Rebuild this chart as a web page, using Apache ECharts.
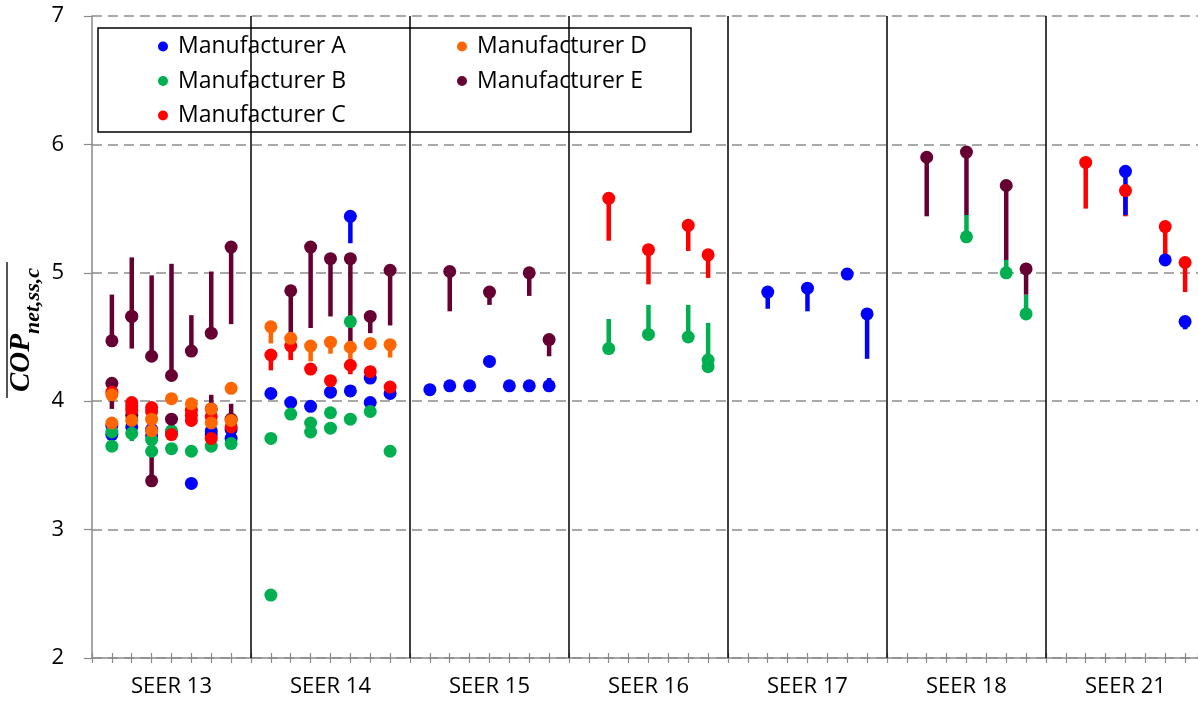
<!DOCTYPE html>
<html>
<head>
<meta charset="utf-8">
<script src="https://cdn.jsdelivr.net/npm/echarts@6/dist/echarts.min.js"></script>
<style>
html,body{margin:0;padding:0;background:#fff;}
#chart{width:1198px;height:702px;}
</style>
</head>
<body>
<div id="chart"></div>
<script>
// ---- categories / tick labels ----
const seerLabels = ['SEER 13', 'SEER 14', 'SEER 15', 'SEER 16', 'SEER 17', 'SEER 18', 'SEER 21'];
const yTicks = [2, 3, 4, 5, 6, 7];
const slotsPerGroup = 8;
const xVisibleMax = 55.65; // the last group is cut off by the right edge of the picture

// ---- data: [group index, slot in group, COP value, error-bar end (null = none)] ----
const mfrA = [
  [0,1,3.81,null],[0,1,3.74,null],[0,2,3.80,null],[0,3,3.78,null],[0,3,3.73,null],
  [0,4,3.76,null],[0,5,3.36,null],[0,6,3.77,null],[0,6,3.74,null],[0,7,3.78,null],[0,7,3.71,null],
  [1,1,4.06,null],[1,2,3.99,null],[1,3,3.96,null],[1,4,4.07,null],[1,5,5.44,5.23],[1,5,4.08,null],
  [1,6,4.18,null],[1,6,3.99,null],[1,7,4.06,null],
  [2,1,4.09,null],[2,2,4.12,null],[2,3,4.12,null],[2,4,4.31,null],[2,5,4.12,null],[2,6,4.12,null],[2,7,4.12,4.18],
  [4,2,4.85,4.72],[4,4,4.88,4.70],[4,6,4.99,null],[4,7,4.68,4.33],
  [6,4,5.79,5.45],[6,6,5.10,null],[6,7,4.62,4.56]
];
const mfrB = [
  [0,1,3.76,null],[0,1,3.65,null],[0,2,3.75,3.69],[0,3,3.70,null],[0,3,3.61,null],
  [0,4,3.77,null],[0,4,3.63,null],[0,5,3.61,null],[0,6,3.65,null],[0,7,3.67,null],
  [1,1,3.71,null],[1,1,2.49,null],[1,2,3.90,null],[1,3,3.83,null],[1,3,3.76,null],
  [1,4,3.91,null],[1,4,3.79,null],[1,5,4.62,null],[1,5,3.86,null],[1,6,3.92,null],[1,7,3.61,null],
  [3,2,4.41,4.64],[3,4,4.52,4.75],[3,6,4.50,4.75],[3,7,4.32,4.61],[3,7,4.27,null],
  [5,4,5.28,5.45],[5,6,5.00,5.10],[5,7,4.68,4.83]
];
const mfrC = [
  [0,1,4.07,null],[0,2,3.99,null],[0,2,3.96,null],[0,2,3.93,null],[0,3,3.95,null],[0,3,3.92,null],
  [0,4,3.74,null],[0,5,3.93,null],[0,5,3.89,null],[0,5,3.85,null],[0,6,3.88,null],[0,6,3.71,null],[0,7,3.80,null],
  [1,1,4.36,4.24],[1,2,4.43,4.32],[1,3,4.25,null],[1,4,4.16,null],[1,5,4.28,4.21],[1,6,4.23,null],[1,7,4.11,null],
  [3,2,5.58,5.25],[3,4,5.18,4.91],[3,6,5.37,5.17],[3,7,5.14,4.96],
  [6,2,5.86,5.50],[6,4,5.64,5.44],[6,6,5.36,5.10],[6,7,5.08,4.85]
];
const mfrD = [
  [0,1,4.05,null],[0,1,3.83,null],[0,2,3.85,null],[0,3,3.86,null],[0,3,3.77,null],[0,4,4.02,null],
  [0,5,3.98,null],[0,6,3.94,null],[0,6,3.83,null],[0,7,4.10,null],[0,7,3.85,null],
  [1,1,4.58,4.45],[1,2,4.49,4.33],[1,3,4.43,4.31],[1,4,4.46,4.37],[1,5,4.42,4.33],[1,6,4.45,4.40],[1,7,4.44,4.34]
];
const mfrE = [
  [0,1,4.47,4.83],[0,1,4.14,3.94],[0,2,4.66,5.12],[0,2,4.66,4.41],[0,2,3.89,null],[0,3,4.35,4.98],[0,3,3.38,3.62],
  [0,4,4.20,5.07],[0,4,3.86,null],[0,5,4.39,4.67],[0,6,4.53,5.01],[0,6,3.94,4.05],[0,7,5.20,4.60],[0,7,3.86,3.98],
  [1,2,4.86,4.50],[1,3,5.20,4.57],[1,4,5.11,4.66],[1,5,5.11,4.45],[1,6,4.66,4.53],[1,7,5.02,4.59],
  [2,2,5.01,4.70],[2,4,4.85,4.75],[2,6,5.00,4.82],[2,7,4.48,4.35],
  [5,2,5.90,5.44],[5,4,5.94,5.45],[5,6,5.68,5.10],[5,7,5.03,4.83]
];

const colors = {
  'Manufacturer A':'#0000FF','Manufacturer B':'#00B050','Manufacturer C':'#FF0000',
  'Manufacturer D':'#FF6600','Manufacturer E':'#660033'
};
const dataByName = {
  'Manufacturer A':mfrA,'Manufacturer B':mfrB,'Manufacturer C':mfrC,
  'Manufacturer D':mfrD,'Manufacturer E':mfrE
};

const FONT = '"Open Sans", "Liberation Sans", sans-serif';
const SERIF = '"Liberation Serif", "DejaVu Serif", serif';

function xPos(d){ return d[0]*slotsPerGroup + d[1]; }

function barSeries(name, withSeparators){
  const color = colors[name];
  const s = {
    name: name,
    type: 'custom',
    z: 2,
    silent: true,
    itemStyle: {color: color},
    encode: {x: 0, y: [1, 2]},
    data: dataByName[name].filter(d => d[3] !== null).map(d => [xPos(d), d[2], d[3]]),
    renderItem: function(params, api){
      const x = api.value(0);
      const p1 = api.coord([x, api.value(1)]);
      const p2 = api.coord([x, api.value(2)]);
      return {type:'line', shape:{x1:p1[0],y1:p1[1],x2:p2[0],y2:p2[1]},
              style:{stroke: color, lineWidth: 4.5, lineCap:'butt'}};
    }
  };
  if (withSeparators){
    s.markLine = {
      silent: true, symbol: 'none', animation: false,
      label: {show:false},
      lineStyle: {color:'#000', type:'solid', width:1.5},
      data: [1,2,3,4,5,6].map(k => ({xAxis: k*slotsPerGroup}))
    };
  }
  return s;
}
function pointSeries(name){
  return {
    name: name,
    type: 'scatter',
    z: 3,
    symbol: 'circle',
    symbolSize: 13,
    itemStyle: {color: colors[name], opacity: 1},
    data: dataByName[name].map(d => [xPos(d), d[2]])
  };
}

const barOrder = ['Manufacturer B','Manufacturer D','Manufacturer C','Manufacturer A','Manufacturer E'];
const pointOrder = ['Manufacturer A','Manufacturer B','Manufacturer E','Manufacturer C','Manufacturer D'];

const series = [];
barOrder.forEach((n, i) => series.push(barSeries(n, i === 0)));
pointOrder.forEach(n => series.push(pointSeries(n)));

const legendText = {fontFamily: FONT, fontSize: 23, color: '#000', lineHeight: 27, padding: [0,0,0,5]};

const chart = echarts.init(document.getElementById('chart'));
chart.setOption({
  animation: false,
  backgroundColor: '#fff',
  grid: {left: 92, top: 16, right: 0, bottom: 44, containLabel: false},
  xAxis: [{
    type: 'value', min: 0, max: xVisibleMax, interval: 1,
    position: 'bottom',
    axisLine: {show: true, lineStyle: {color: '#8a8a8a', width: 1.5}},
    axisTick: {show: true, length: 5, lineStyle: {color: '#8a8a8a', width: 1.2}},
    splitLine: {show: false},
    axisLabel: {
      show: true, margin: 18, fontFamily: FONT, fontSize: 22, color: '#000',
      showMaxLabel: false,
      formatter: function(v){
        const r = Math.round(v);
        if (Math.abs(v - r) > 1e-6) return '';
        return (r % slotsPerGroup === slotsPerGroup/2) ? seerLabels[(r - slotsPerGroup/2)/slotsPerGroup] : '';
      }
    }
  },{
    type: 'value', min: 0, max: xVisibleMax, interval: 1,
    position: 'bottom', offset: 0,
    axisLine: {show: false},
    axisTick: {show: true, inside: true, length: 5, lineStyle: {color: '#8a8a8a', width: 1.2}},
    splitLine: {show: false},
    axisLabel: {show: false}
  }],
  yAxis: {
    type: 'value', min: yTicks[0], max: yTicks[yTicks.length-1], interval: 1,
    axisLine: {show: true, lineStyle: {color: '#8a8a8a', width: 1.5}},
    axisTick: {show: true, length: 8, lineStyle: {color: '#8a8a8a', width: 1.2}},
    splitLine: {show: true, lineStyle: {color: '#8c8c8c', type: [10, 6], width: 1.5}},
    axisLabel: {margin: 28, fontFamily: FONT, fontSize: 22, color: '#000'}
  },
  legend: [{
    data: ['Manufacturer A','Manufacturer B','Manufacturer C'],
    orient: 'vertical', left: 153, top: 28,
    icon: 'circle', itemWidth: 10, itemHeight: 10, itemGap: 7.5,
    textStyle: legendText, z: 5
  },{
    data: ['Manufacturer D','Manufacturer E'],
    orient: 'vertical', left: 452, top: 28,
    icon: 'circle', itemWidth: 10, itemHeight: 10, itemGap: 7.5,
    textStyle: legendText, z: 5
  }],
  graphic: [
    {type: 'rect', z: 4, silent: true,
     shape: {x: 98, y: 28, width: 593, height: 104},
     style: {fill: '#fff', stroke: '#000', lineWidth: 1.5}},
    {type: 'text', x: 22, y: 330, rotation: Math.PI/2, silent: true,
     style: {
       text: '{a|COP}{b|net,ss,c}',
       align: 'center', verticalAlign: 'middle',
       rich: {
         a: {fontFamily: SERIF, fontStyle: 'italic', fontWeight: 'bold', fontSize: 29, fill: '#000'},
         b: {fontFamily: SERIF, fontStyle: 'italic', fontWeight: 'bold', fontSize: 22, fill: '#000', verticalAlign: 'bottom', padding: [0,0,-8,0]}
       }
     }},
    {type: 'line', silent: true,
     shape: {x1: 7, y1: 262, x2: 7, y2: 398},
     style: {stroke: '#555', lineWidth: 2}}
  ],
  series: series
});
</script>
</body>
</html>
